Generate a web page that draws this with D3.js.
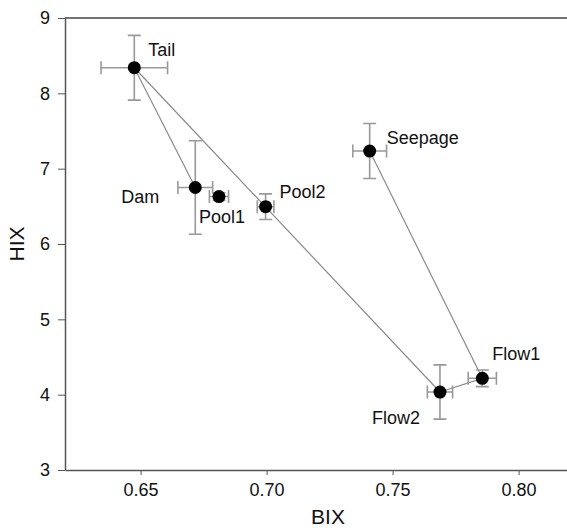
<!DOCTYPE html>
<html>
<head>
<meta charset="utf-8">
<script src="https://cdn.jsdelivr.net/npm/d3@7"></script>
<style>
  body { margin: 0; background: #fff; }
  text { font-family: "Liberation Sans", Arial, sans-serif; fill: #111; }
</style>
</head>
<body>
<div id="svg-container"></div>
<script>
// sites and their mean BIX / HIX with error (± half-range)
const sites   = ['Tail', 'Dam', 'Pool1', 'Pool2', 'Seepage', 'Flow1', 'Flow2'];
const bix     = [0.6475, 0.6717, 0.6811, 0.6996, 0.7409, 0.7856, 0.7688];
const hix     = [8.34, 6.75, 6.63, 6.495, 7.234, 4.217, 4.035];
const bixErr  = [0.0132, 0.0069, 0.0038, 0.0033, 0.0067, 0.0056, 0.0050];
const hixErr  = [0.43, 0.62, 0.05, 0.17, 0.365, 0.11, 0.36];
// links drawn between sites
const links   = [['Tail', 'Dam'], ['Tail', 'Flow2'], ['Seepage', 'Flow1'], ['Flow2', 'Flow1']];
const xTicks  = [0.65, 0.70, 0.75, 0.80];
const yTicks  = [3, 4, 5, 6, 7, 8, 9];
// label offsets (dx, dy) from each point
const labelOffset = [[14, -12], [-74, 15], [-20, 26], [14, -9], [17, -7], [10, -18], [-68, 32]];

const W = 567, H = 528;
const margin = {left: 65, top: 18, right: -2, bottom: 58};

let svg = d3.select('#svg-container').append('svg')
    .attr('width', W)
    .attr('height', H);

let x = d3.scaleLinear().domain([0.62, 0.82]).range([margin.left, W - margin.right]);
let y = d3.scaleLinear().domain([3, 9]).range([H - margin.bottom, margin.top]);

let data = sites.map(function (s, i) {
    return {name: s, bix: bix[i], hix: hix[i], ex: bixErr[i], ey: hixErr[i], off: labelOffset[i]};
});
let byName = {};
data.forEach(function (d) { byName[d.name] = d; });

// top frame line
svg.append('line')
    .attr('x1', x(0.62)).attr('x2', x(0.82))
    .attr('y1', y(9)).attr('y2', y(9))
    .attr('stroke', '#444').attr('stroke-width', 1.5);

// axes
let xAxis = svg.append('g')
    .attr('transform', `translate(0,${y(3)})`)
    .call(d3.axisBottom(x).tickValues(xTicks).tickFormat(d3.format('.2f')).tickSize(5).tickPadding(8).tickSizeOuter(0));
let yAxis = svg.append('g')
    .attr('transform', `translate(${x(0.62)},0)`)
    .call(d3.axisLeft(y).tickValues(yTicks).tickFormat(d3.format('d')).tickSize(7).tickPadding(8).tickSizeOuter(0));
[xAxis, yAxis].forEach(function (a) {
    a.select('.domain').attr('stroke', '#555').attr('stroke-width', 1.5);
    a.selectAll('.tick line').attr('stroke', '#555');
    a.selectAll('.tick text').attr('font-size', 18).attr('fill', '#111')
        .style('font-family', '"Liberation Sans", Arial, sans-serif');
});

// connecting lines
svg.append('g').selectAll('line').data(links).enter()
    .append('line')
    .attr('x1', function (d) { return x(byName[d[0]].bix); })
    .attr('y1', function (d) { return y(byName[d[0]].hix); })
    .attr('x2', function (d) { return x(byName[d[1]].bix); })
    .attr('y2', function (d) { return y(byName[d[1]].hix); })
    .attr('stroke', '#8a8a8a').attr('stroke-width', 1.2);

// error bars
let cap = 6.5;
let eb = svg.append('g').attr('stroke', '#999').attr('stroke-width', 1.6).attr('fill', 'none');
data.forEach(function (d) {
    let cx = x(d.bix), cy = y(d.hix);
    let x0 = x(d.bix - d.ex), x1 = x(d.bix + d.ex);
    let y0 = y(d.hix - d.ey), y1 = y(d.hix + d.ey);
    eb.append('path').attr('d',
        `M${x0},${cy}H${x1}` +
        `M${x0},${cy - cap}V${cy + cap}` +
        `M${x1},${cy - cap}V${cy + cap}` +
        `M${cx},${y0}V${y1}` +
        `M${cx - cap},${y0}H${cx + cap}` +
        `M${cx - cap},${y1}H${cx + cap}`);
});

// points
svg.append('g').selectAll('circle').data(data).enter()
    .append('circle')
    .attr('cx', function (d) { return x(d.bix); })
    .attr('cy', function (d) { return y(d.hix); })
    .attr('r', 6.5)
    .attr('fill', '#000');

// site labels
svg.append('g').selectAll('text').data(data).enter()
    .append('text')
    .attr('x', function (d) { return x(d.bix) + d.off[0]; })
    .attr('y', function (d) { return y(d.hix) + d.off[1]; })
    .attr('font-size', 18)
    .text(function (d) { return d.name; });

// axis titles
svg.append('text')
    .attr('x', (x(0.62) + x(0.82)) / 2 + 11)
    .attr('y', H - 4)
    .attr('text-anchor', 'middle')
    .attr('font-size', 21)
    .text('BIX');
svg.append('text')
    .attr('transform', `translate(24,${(y(3) + y(9)) / 2}) rotate(-90)`)
    .attr('text-anchor', 'middle')
    .attr('font-size', 21)
    .text('HIX');
</script>
</body>
</html>
